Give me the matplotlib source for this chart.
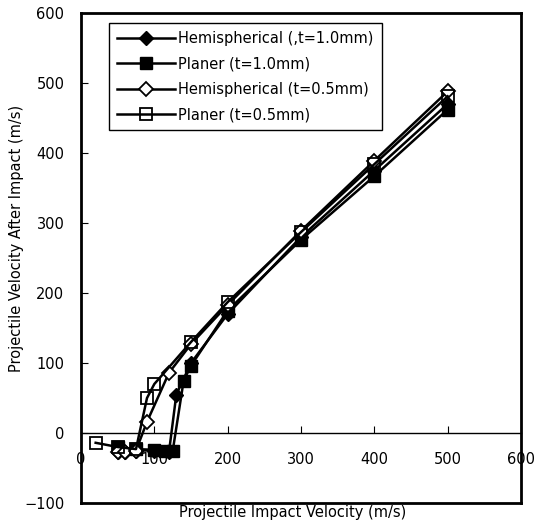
import matplotlib.pyplot as plt

plt.rcParams['font.family'] = ['DejaVu Sans']

# Hemispherical, t=1.0mm (filled diamond)
hemi10_x = [50, 60, 75, 100, 120, 130, 150, 200, 300, 400, 500]
hemi10_y = [-27, -27, -25, -25, -27, 55, 100, 170, 280, 375, 470]
# Planer, t=1.0mm (filled square)
plan10_x = [50, 75, 100, 115, 125, 140, 150, 200, 300, 400, 500]
plan10_y = [-20, -23, -24, -26, -26, 75, 96, 175, 276, 367, 462]
# Hemispherical, t=0.5mm (open diamond)
hemi05_x = [50, 60, 75, 90, 120, 150, 200, 300, 400, 500]
hemi05_y = [-27, -27, -25, 16, 86, 127, 183, 289, 389, 488]
# Planer, t=0.5mm (open square)
plan05_x = [20, 50, 75, 90, 100, 150, 200, 300, 400, 500]
plan05_y = [-14, -20, -23, 50, 70, 130, 187, 287, 384, 481]

labels = ['Hemispherical (,t=1.0mm)', 'Planer (t=1.0mm)',
          'Hemispherical (t=0.5mm)', 'Planer (t=0.5mm)']

fig = plt.figure(figsize=(5.42, 5.23), dpi=100)
ax = fig.add_axes([81/542, 20/523, 440/542, 490/523])

ax.plot(hemi10_x, hemi10_y, color='black', lw=1.8, marker='D', ms=7,
        mfc='black', mec='black', label=labels[0])
ax.plot(plan10_x, plan10_y, color='black', lw=1.8, marker='s', ms=9,
        mfc='black', mec='black', label=labels[1])
ax.plot(hemi05_x, hemi05_y, color='black', lw=1.8, marker='D', ms=7,
        mfc='white', mec='black', mew=1.3, label=labels[2])
ax.plot(plan05_x, plan05_y, color='black', lw=1.8, marker='s', ms=9,
        mfc='none', mec='black', mew=1.3, label=labels[3])

ax.set_xlim(0, 600)
ax.set_ylim(-100, 600)
ax.set_xticks(range(0, 601, 100))
ax.set_yticks(range(-100, 601, 100))

# x axis crosses at y=0, frame kept round the plot
ax.spines['bottom'].set_position(('data', 0))
ax.spines['bottom'].set_linewidth(1)
ax.axhline(-100, color='black', lw=2, clip_on=False)
for s in ['left', 'right', 'top']:
    ax.spines[s].set_linewidth(2)
ax.tick_params(axis='x', direction='in', length=5, labelsize=10.5, pad=14)
ax.tick_params(axis='y', direction='in', length=5, labelsize=10.5, pad=12)

ax.set_xlabel('Projectile Impact Velocity (m/s)', fontsize=10.5)
ax.xaxis.set_label_coords(0.48, -0.004)
ax.xaxis.label.set_va('top')
ax.set_ylabel('Projectile Velocity After Impact (m/s)', fontsize=10.5)
ax.yaxis.set_label_coords(-0.13, 0.54)

leg = ax.legend(loc='upper left', bbox_to_anchor=(28/440, 0.98), fontsize=10.5,
                handlelength=4.0, handletextpad=0.2, fancybox=False,
                framealpha=1, edgecolor='black', borderpad=0.55,
                labelspacing=0.72, borderaxespad=0)
leg.get_frame().set_linewidth(1)

fig.savefig('out.png', dpi=100)
